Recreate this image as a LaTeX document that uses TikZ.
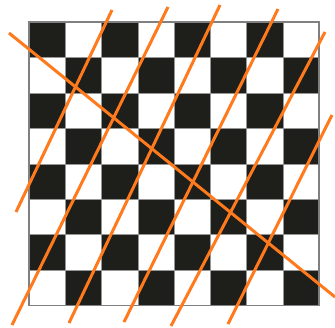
\documentclass[tikz,border=0pt]{standalone}
\definecolor{sqblack}{RGB}{30,30,26}
\definecolor{gridgray}{RGB}{150,150,150}
\definecolor{penorange}{RGB}{255,122,28}
\begin{document}
\begin{tikzpicture}[x=1pt,y=-1pt,
  orangeline/.style={draw=penorange,line width=3pt},
  darksq/.style={fill=sqblack}]
\useasboundingbox (0,0) rectangle (335,327);
\fill[white] (0,0) rectangle (335,327);
% board squares
\foreach \i in {0,...,7}{
  \foreach \j in {0,...,7}{
    \pgfmathtruncatemacro{\sqparity}{mod(\i+\j,2)}
    \ifnum\sqparity=0
      \path[darksq] ({29+\i*36.25},{22+\j*35.45}) rectangle ({29+(\i+1)*36.25},{22+(\j+1)*35.45});
    \fi
  }
}
% grid
\foreach \i in {1,...,7}{
  \draw[gridgray,line width=0.5pt] ({29+\i*36.25},22) -- ({29+\i*36.25},305.6);
  \draw[gridgray,line width=0.5pt] (29,{22+\i*35.45}) -- (319,{22+\i*35.45});
}
\draw[gray,line width=1.5pt] (29,22) rectangle (319,305.6);
% orange lines
\coordinate (d1) at (9,33);   \coordinate (d2) at (335,297);
\coordinate (a1) at (112,10); \coordinate (a2) at (16,212);
\coordinate (b1) at (168,7);  \coordinate (b2) at (12,325);
\coordinate (c1) at (220,5);  \coordinate (c2) at (69,323);
\coordinate (e1) at (278,9);  \coordinate (e2) at (124,322);
\coordinate (f1) at (325,32); \coordinate (f2) at (171,326);
\coordinate (g1) at (332,115);\coordinate (g2) at (228,324);
\draw[orangeline] (d1) -- (d2);
\draw[orangeline] (a1) -- (a2);
\draw[orangeline] (b1) -- (b2);
\draw[orangeline] (c1) -- (c2);
\draw[orangeline] (e1) -- (e2);
\draw[orangeline] (f1) -- (f2);
\draw[orangeline] (g1) -- (g2);
\end{tikzpicture}
\end{document}
